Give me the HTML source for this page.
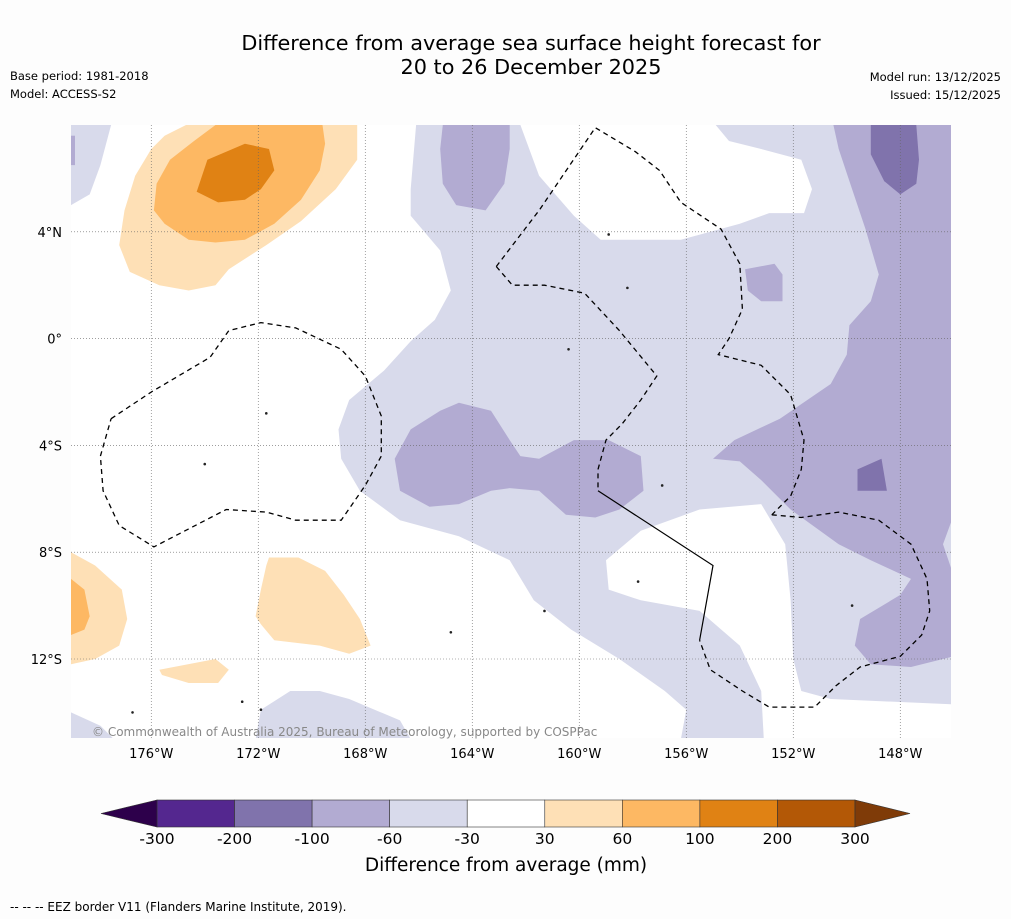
<!DOCTYPE html>
<html><head><meta charset="utf-8"><style>
body{margin:0;background:#fdfdfd;font-family:"DejaVu Sans","Liberation Sans",sans-serif;}
#wrap{position:relative;width:1011px;height:919px;overflow:hidden;}
</style></head><body>
<div id="wrap">
<svg id="svg" width="1011" height="919" xmlns="http://www.w3.org/2000/svg">
<text x="531" y="50" text-anchor="middle" font-size="20.8" fill="#000">Difference from average sea surface height forecast for</text>
<text x="531" y="74" text-anchor="middle" font-size="20.8" fill="#000">20 to 26 December 2025</text>
<text x="10" y="80" font-size="11.5">Base period: 1981-2018</text>
<text x="10" y="98" font-size="11.5">Model: ACCESS-S2</text>
<text x="1001" y="81" font-size="11.5" text-anchor="end">Model run: 13/12/2025</text>
<text x="1001" y="99" font-size="11.5" text-anchor="end">Issued: 15/12/2025</text>
<defs><clipPath id="mc"><rect x="71" y="125" width="880" height="613"/></clipPath></defs>
<rect x="71" y="125" width="880" height="613" fill="#fff"/>
<g id="map" clip-path="url(#mc)"></g>
<g id="grid"></g>
<g id="eez"></g>
<text x="92" y="736" font-size="12" fill="#888">© Commonwealth of Australia 2025, Bureau of Meteorology, supported by COSPPac</text>
<g id="axes"></g>
<g id="cbar"></g>
<text x="506" y="871" text-anchor="middle" font-size="18.5">Difference from average (mm)</text>
<text x="10" y="911" font-size="12">--  --  -- EEZ border V11 (Flanders Marine Institute, 2019).</text>
</svg>
</div>
<script>
const lonTicks=[-176,-172,-168,-164,-160,-156,-152,-148];
const latTicks=[4,0,-4,-8,-12];
const levels=[-300,-200,-100,-60,-30,30,60,100,200,300];
const levelColors=["#54278f","#8073ac","#b2abd2","#d8daeb","#ffffff","#fee0b6","#fdb863","#e08214","#b35806"];
const extendColors=["#2d004b","#7f3b08"];
const lavMain=[[-166.1,8],[-146,8],[-146,-15],[-156.2,-15],[-156.0,-13.9],[-156.8,-13.2],[-158.5,-12.0],[-160.3,-10.9],[-161.7,-9.8],[-162.6,-8.3],[-164.5,-7.4],[-166.7,-6.8],[-168.2,-5.7],[-168.9,-4.5],[-169.0,-3.4],[-168.6,-2.3],[-167.3,-1.2],[-166.3,-0.1],[-165.4,0.7],[-164.8,1.8],[-165.2,3.3],[-166.3,4.6],[-166.3,5.6]];
const lavTL=[[-179,8],[-177.5,8],[-177.9,6.5],[-178.3,5.4],[-179,5.0]];
const lavBL=[[-179,-14.0],[-177.9,-14.5],[-177.4,-15],[-179,-15]];
const lavBot=[[-172.1,-15],[-171.9,-13.9],[-170.8,-13.2],[-169.7,-13.2],[-168.6,-13.5],[-166.7,-14.3],[-166.3,-15]];
const whiteA=[[-162.2,8],[-161.5,6.1],[-160.2,4.6],[-159.2,3.7],[-156.2,3.7],[-154.0,4.3],[-152.9,4.7],[-151.6,4.7],[-151.3,5.6],[-151.7,6.7],[-153.2,7.1],[-154.4,7.4],[-154.9,8]];
const whiteB=[[-159.0,-8.3],[-157.7,-7.2],[-155.5,-6.4],[-153.2,-6.2],[-152.3,-7.7],[-152.1,-9.8],[-152.0,-12.0],[-151.7,-13.2],[-150.6,-13.5],[-146,-13.7],[-146,-15],[-153.1,-15],[-153.2,-13.2],[-154.0,-11.5],[-155.5,-10.2],[-157.7,-9.8],[-158.9,-9.4]];
const midP1=[[-165.1,8],[-162.6,8],[-162.6,7.1],[-162.8,5.8],[-163.5,4.8],[-164.6,5.0],[-165.1,5.8],[-165.2,7.1]];
const midP2=[[-153.8,2.6],[-152.7,2.8],[-152.4,2.4],[-152.4,1.4],[-153.2,1.4],[-153.7,1.8]];
const midP3=[[-150.5,8],[-146,8],[-146,-6.6],[-146.4,-7.7],[-146,-8.9],[-146,-11.9],[-147.6,-12.3],[-149.1,-12.2],[-149.7,-11.5],[-149.5,-10.5],[-148.0,-9.6],[-147.6,-9.0],[-149.1,-8.3],[-150.3,-7.7],[-152.1,-6.4],[-153.2,-5.3],[-154.0,-4.6],[-155.0,-4.5],[-154.2,-3.8],[-152.5,-3.0],[-150.6,-1.7],[-150.0,-0.6],[-149.9,0.5],[-149.1,1.4],[-148.8,2.4],[-149.3,4.1],[-149.9,5.9],[-150.3,7.1]];
const midP4=[[-166.9,-4.5],[-166.3,-3.4],[-165.2,-2.7],[-164.5,-2.4],[-163.3,-2.7],[-162.6,-3.8],[-162.2,-4.4],[-161.5,-4.5],[-160.2,-3.8],[-158.9,-3.8],[-157.7,-4.4],[-157.6,-5.7],[-158.5,-6.4],[-159.4,-6.7],[-160.5,-6.6],[-161.5,-5.7],[-162.6,-5.6],[-163.3,-5.7],[-164.5,-6.2],[-165.6,-6.3],[-166.7,-5.7]];
const midP5=[[-179,7.6],[-178.85,7.6],[-178.85,6.5],[-179,6.5]];
const darkD1=[[-149.1,8],[-147.4,8],[-147.3,6.7],[-147.4,5.8],[-148.0,5.4],[-148.6,5.9],[-149.1,6.9]];
const darkD2=[[-149.6,-4.9],[-148.7,-4.5],[-148.5,-5.7],[-149.6,-5.7]];
const orL1=[[-174.7,8],[-168.3,8],[-168.3,6.7],[-169.1,5.6],[-170.4,4.4],[-171.7,3.5],[-173.1,2.6],[-173.6,2.0],[-174.6,1.8],[-175.7,2.0],[-176.8,2.5],[-177.2,3.5],[-177.0,4.8],[-176.6,6.1],[-176.0,7.1],[-175.5,7.6]];
const orM1=[[-173.6,8],[-169.6,8],[-169.5,7.3],[-169.7,6.3],[-170.4,5.2],[-171.4,4.3],[-172.5,3.7],[-173.6,3.6],[-174.6,3.7],[-175.5,4.3],[-175.9,4.8],[-175.8,5.8],[-175.3,6.7],[-174.4,7.4]];
const orD1=[[-173.9,6.7],[-172.5,7.3],[-171.6,7.1],[-171.4,6.3],[-171.9,5.6],[-172.5,5.2],[-173.5,5.1],[-174.3,5.5]];
const orL2=[[-179,-8.0],[-178.1,-8.5],[-177.1,-9.4],[-176.9,-10.5],[-177.2,-11.5],[-178.1,-12.0],[-179,-12.2]];
const orM2=[[-179,-9.0],[-178.5,-9.4],[-178.3,-10.4],[-178.5,-10.9],[-179,-11.1]];
const orL3=[[-171.6,-8.2],[-170.5,-8.2],[-169.5,-8.7],[-168.8,-9.6],[-168.2,-10.5],[-167.8,-11.5],[-168.6,-11.8],[-169.7,-11.5],[-171.4,-11.3],[-171.9,-10.7],[-172.1,-10.4],[-171.9,-9.4],[-171.7,-8.5]];
const orL4=[[-175.7,-12.4],[-173.6,-12.0],[-173.1,-12.4],[-173.5,-12.9],[-174.6,-12.9],[-175.6,-12.6]];
const eez1=[[-177.5,-3.0],[-176.0,-2.0],[-173.8,-0.7],[-173.1,0.3],[-171.9,0.6],[-170.6,0.4],[-168.9,-0.4],[-168.0,-1.4],[-167.4,-2.9],[-167.4,-4.4],[-168.0,-5.5],[-168.9,-6.8],[-170.6,-6.8],[-171.7,-6.5],[-173.2,-6.4],[-175.9,-7.8],[-177.2,-7.0],[-177.8,-5.7],[-177.9,-4.4],[-177.5,-3.0]];
const eez2=[[-163.1,2.7],[-161.5,4.8],[-159.4,7.9],[-158.9,7.6],[-157.9,7.0],[-157.0,6.3],[-156.2,5.1],[-154.7,4.1],[-154.0,2.8],[-153.9,1.1],[-154.4,0.0],[-154.8,-0.6],[-153.2,-1.0],[-152.1,-2.1],[-151.6,-3.8],[-151.7,-4.9],[-152.1,-5.9],[-152.8,-6.6]];
const eez3=[[-152.8,-6.6],[-151.7,-6.7],[-150.3,-6.5],[-148.8,-6.8],[-147.6,-7.7],[-147.0,-9.0],[-146.9,-10.2],[-147.2,-11.1],[-148.0,-11.9],[-149.5,-12.3],[-150.4,-13.0],[-151.2,-13.8],[-152.9,-13.8],[-153.9,-13.2],[-155.1,-12.4],[-155.5,-11.3]];
const eez4=[[-163.1,2.7],[-162.5,2.0],[-161.3,2.0],[-159.8,1.7],[-158.5,0.3],[-157.1,-1.4],[-157.7,-2.3],[-158.4,-3.2],[-159.0,-3.8],[-159.3,-4.9],[-159.3,-5.7]];
const boundary=[[-159.3,-5.7],[-155.0,-8.5],[-155.5,-11.3]];
const islands=[[-172.6,-13.6],[-171.9,-13.9],[-171.7,-2.8],[-174.0,-4.7],[-160.4,-0.4],[-158.2,1.9],[-158.9,3.9],[-156.9,-5.5],[-157.8,-9.1],[-164.8,-11.0],[-161.3,-10.2],[-149.8,-10.0],[-176.7,-14.0]];

const NS="http://www.w3.org/2000/svg";
const xS=lon=>71+(lon+179)*26.75;
const yS=lat=>125+(8-lat)*26.7;
const pts=a=>a.map(p=>xS(p[0]).toFixed(1)+","+yS(p[1]).toFixed(1)).join(" ");
function mk(tag,parent,attrs){const e=document.createElementNS(NS,tag);for(const k in attrs)e.setAttribute(k,attrs[k]);parent.appendChild(e);return e;}
const map=document.getElementById('map');
const layers=[[lavMain,3,'contour-lavender-main'],[lavTL,3,'contour-lavender-topleft'],[lavBL,3,'contour-lavender-bottomleft'],[lavBot,3,'contour-lavender-bottom'],[whiteA,4,'contour-white-north'],[whiteB,4,'contour-white-south'],[midP1,2,'contour-purple-north'],[midP2,2,'contour-purple-small'],[midP3,2,'contour-purple-east'],[midP4,2,'contour-purple-central'],[midP5,2,'contour-purple-corner'],[darkD1,1,'contour-dark-north'],[darkD2,1,'contour-dark-east'],[orL1,5,'contour-orange-light-nw'],[orM1,6,'contour-orange-mid-nw'],[orD1,7,'contour-orange-dark-nw'],[orL2,5,'contour-orange-light-sw'],[orM2,6,'contour-orange-mid-sw'],[orL3,5,'contour-orange-light-s'],[orL4,5,'contour-orange-light-small']];
layers.forEach(l=>{
  const e=mk('polygon',map,{points:pts(l[0]),fill:levelColors[l[1]],stroke:'none'});
  
  
});
islands.forEach(p=>{
  const e=mk('circle',map,{cx:xS(p[0]),cy:yS(p[1]),r:1.3,fill:'#222'});
  
  
});
const grid=document.getElementById('grid');
const axes=document.getElementById('axes');
lonTicks.forEach(t=>{
  const g=mk('line',grid,{x1:xS(t),x2:xS(t),y1:125,y2:738,stroke:'#666','stroke-width':0.6,'stroke-dasharray':'1,2'});
  
  
  const tx=mk('text',axes,{x:xS(t),y:758,'text-anchor':'middle','font-size':13});
  tx.textContent=Math.abs(t)+"°W";
  
  
});
latTicks.forEach(t=>{
  const g=mk('line',grid,{x1:71,x2:951,y1:yS(t),y2:yS(t),stroke:'#666','stroke-width':0.6,'stroke-dasharray':'1,2'});
  
  
  const tx=mk('text',axes,{x:62,y:yS(t)+5,'text-anchor':'end','font-size':13});
  tx.textContent=t===0?"0°":Math.abs(t)+"°"+(t>0?"N":"S");
  
  
});
const eez=document.getElementById('eez');
[eez1,eez2,eez3,eez4].forEach(a=>{
  const e=mk('polyline',eez,{points:pts(a),fill:'none',stroke:'#000','stroke-width':1.3,'stroke-dasharray':'5,4'});
  
  
});
const b=mk('polyline',eez,{points:pts(boundary),fill:'none',stroke:'#000','stroke-width':1.2});


const cb=document.getElementById('cbar');
const cx0=157,cx1=855,cy0=800,cy1=827,seg=(cx1-cx0)/(levels.length-1);
const cbX=i=>cx0+i*seg;
levelColors.forEach((c,i)=>{
  const r=mk('rect',cb,{x:cbX(i),y:cy0,width:seg,height:cy1-cy0,fill:c,stroke:'#333','stroke-width':0.6});
  
  
});
const lt=mk('polygon',cb,{points:`${cx0},${cy0} ${cx0},${cy1} 101,813.5`,fill:extendColors[0],stroke:'#333','stroke-width':0.6});


const rt=mk('polygon',cb,{points:`${cx1},${cy0} ${cx1},${cy1} 910,813.5`,fill:extendColors[1],stroke:'#333','stroke-width':0.6});


levels.forEach((v,i)=>{
  const t=mk('text',cb,{x:cbX(i),y:844,'text-anchor':'middle','font-size':15.5});
  t.textContent=v;
  
  
});
</script>
</body></html>
